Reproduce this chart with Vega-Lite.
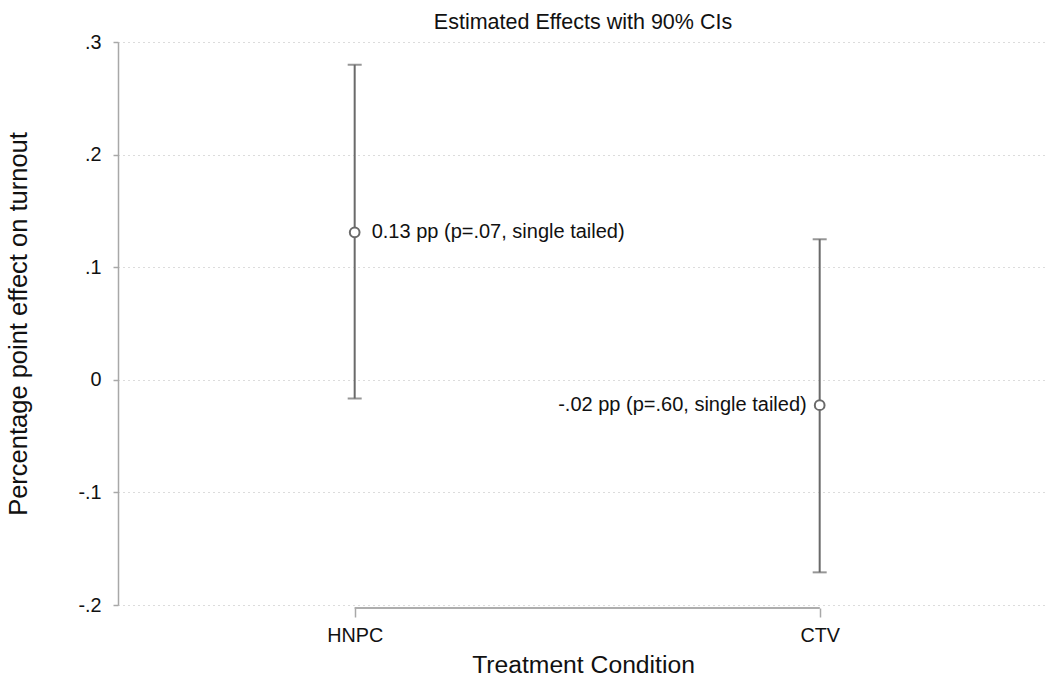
{
  "$schema": "https://vega.github.io/schema/vega-lite/v6.json",
  "width": 930,
  "height": 563,
  "autosize": "none",
  "padding": {"left": 118, "top": 42, "right": 0, "bottom": 74},
  "background": "white",
  "config": {
    "font": "Liberation Sans",
    "view": {"stroke": null}
  },
  "title": {
    "text": "Estimated Effects with 90% CIs",
    "fontSize": 21.5,
    "fontWeight": "normal",
    "color": "#111111",
    "anchor": "middle",
    "offset": -1
  },
  "data": {
    "values": [
      {"condition": "HNPC", "est": 0.131, "lo": -0.0166, "hi": 0.2798, "label": "0.13 pp (p=.07, single tailed)", "side": "right"},
      {"condition": "CTV", "est": -0.0225, "lo": -0.171, "hi": 0.1248, "label": "-.02 pp (p=.60, single tailed)", "side": "left"}
    ]
  },
  "encoding": {
    "x": {
      "field": "condition",
      "type": "nominal",
      "scale": {"type": "point", "domain": ["HNPC", "CTV"], "paddingOuter": 0.4936, "align": 0.509},
      "axis": {
        "title": "Treatment Condition",
        "titleFontSize": 24.7,
        "titleFontWeight": "normal",
        "titleColor": "#111111",
        "titlePadding": 8,
        "labelFontSize": 19.8,
        "labelColor": "#111111",
        "labelPadding": 8,
        "labelAngle": 0,
        "domain": false,
        "ticks": true,
        "tickSize": 9,
        "tickColor": "#a8a8a8",
        "tickWidth": 1.5,
        "offset": 3,
        "grid": false
      }
    }
  },
  "layer": [
    {
      "mark": {"type": "rule", "color": "#a8a8a8", "strokeWidth": 1.5, "yOffset": 3},
      "encoding": {
        "x": {"datum": "HNPC"},
        "x2": {"datum": "CTV"},
        "y": {
          "datum": -0.2,
          "type": "quantitative",
          "scale": {"domain": [-0.2, 0.3], "nice": false, "zero": false},
          "axis": {
            "title": "Percentage point effect on turnout",
            "titleFontSize": 25.5,
            "titleFontWeight": "normal",
            "titleColor": "#111111",
            "titlePadding": 46,
            "values": [-0.2, -0.1, 0, 0.1, 0.2, 0.3],
            "labelExpr": "datum.value == 0 ? '0' : (datum.value < 0 ? '-' : '') + replace(format(abs(datum.value), '.1f'), '0.', '.')",
            "labelFontSize": 19.8,
            "labelColor": "#111111",
            "labelPadding": 12,
            "domainColor": "#a8a8a8",
            "domainWidth": 1.5,
            "tickColor": "#a8a8a8",
            "tickWidth": 1.5,
            "tickSize": 5,
            "grid": true,
            "gridColor": "#b8b8b8",
            "gridDash": [1, 4],
            "gridWidth": 1
          }
        }
      }
    },
    {
      "mark": {"type": "rule", "color": "#777777", "strokeWidth": 1.5, "strokeDash": [8, 4]},
      "encoding": {"y": {"datum": 0, "type": "quantitative"}}
    },
    {
      "mark": {"type": "rule", "color": "#6a6a6a", "strokeWidth": 2},
      "encoding": {
        "y": {"field": "lo", "type": "quantitative"},
        "y2": {"field": "hi"}
      }
    },
    {
      "mark": {"type": "tick", "color": "#6a6a6a", "thickness": 2, "size": 14, "orient": "horizontal"},
      "encoding": {"y": {"field": "lo", "type": "quantitative"}}
    },
    {
      "mark": {"type": "tick", "color": "#6a6a6a", "thickness": 2, "size": 14, "orient": "horizontal"},
      "encoding": {"y": {"field": "hi", "type": "quantitative"}}
    },
    {
      "mark": {"type": "point", "shape": "circle", "filled": true, "fill": "white", "stroke": "#6a6a6a", "strokeWidth": 2, "size": 95, "opacity": 1},
      "encoding": {"y": {"field": "est", "type": "quantitative"}}
    },
    {
      "transform": [{"filter": "datum.side == 'right'"}],
      "mark": {"type": "text", "align": "left", "baseline": "middle", "dx": 17, "fontSize": 20, "color": "#111111"},
      "encoding": {
        "y": {"field": "est", "type": "quantitative"},
        "text": {"field": "label"}
      }
    },
    {
      "transform": [{"filter": "datum.side == 'left'"}],
      "mark": {"type": "text", "align": "right", "baseline": "middle", "dx": -13, "fontSize": 20, "color": "#111111"},
      "encoding": {
        "y": {"field": "est", "type": "quantitative"},
        "text": {"field": "label"}
      }
    }
  ]
}
